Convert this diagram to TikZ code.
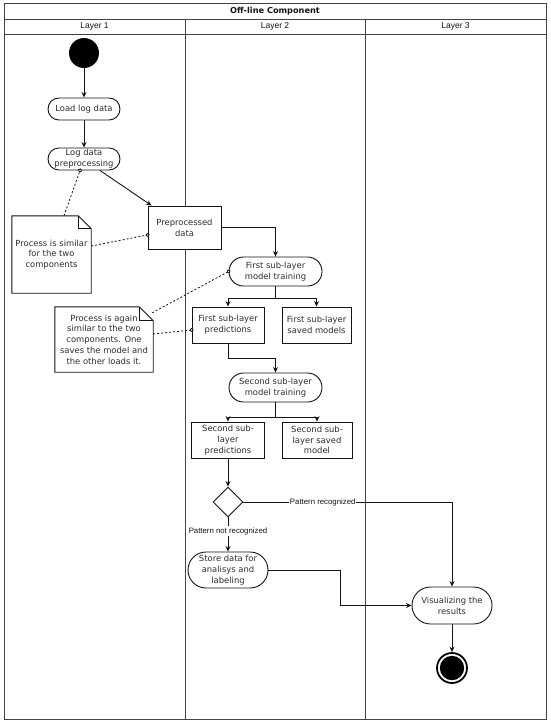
\documentclass[tikz,border=0pt]{standalone}
\usepackage{fontspec}
\setmainfont{DejaVu Sans}
\newfontfamily\lblfont{Liberation Sans}
\usetikzlibrary{arrows.meta,shapes.geometric,calc}
\definecolor{linec}{HTML}{141414}
\definecolor{textc}{HTML}{2E2E2E}
\begin{document}
\begin{tikzpicture}[x=1pt,y=-1pt,
  every node/.style={text=textc, font=\fontsize{8.4}{10.8}\selectfont, align=center, inner sep=0pt},
  frame/.style={draw=linec!80, line width=1pt},
  act/.style={draw=linec, line width=0.9pt, fill=white, rectangle, rounded corners=#1},
  box/.style={draw=linec, line width=0.9pt, fill=white, rectangle},
  flow/.style={draw=linec, line width=0.9pt, -{Stealth[length=5.5pt,width=5pt]}},
  anchorline/.style={draw=linec, line width=0.8pt, dash pattern=on 2pt off 2pt, -{Circle[open,length=4pt,width=4pt,fill=white,line width=0.8pt,sep=-2pt]}},
  elabel/.style={fill=white, font=\lblfont\fontsize{7.8}{9}\selectfont, text=linec, inner sep=1pt},
  hdr/.style={font=\lblfont\fontsize{8.5}{10}\selectfont, text=linec}
]
\useasboundingbox (0,0) rectangle (550,723);
\fill[white] (0,0) rectangle (550,723);

% swimlane frame
\draw[frame] (4,3) rectangle (546,719);
\draw[frame] (4,19) -- (546,19);
\draw[frame] (4,34) -- (546,34);
\draw[frame] (185,19) -- (185,719);
\draw[frame] (365,19) -- (365,719);
\node[font=\bfseries\fontsize{8.2}{10}\selectfont, text=linec] (title) at (275,11) {Off-line Component};
\node[hdr] (h1) at (94.5,26.5) {Layer 1};
\node[hdr] (h2) at (275,26.5) {Layer 2};
\node[hdr] (h3) at (455.5,26.5) {Layer 3};

% nodes
\node[circle, fill=black, minimum size=30pt] (start) at (84,53) {};
\node[act=11pt, minimum width=72pt, minimum height=22pt] (load) at (84,109) {Load log data};
\node[act=11pt, minimum width=72pt, minimum height=22pt] (prep) at (84,159) {Log data\\preprocessing};
\node[box, minimum width=73pt, minimum height=43pt] (pdata) at (184.5,227.5) {Preprocessed\\data};
\node[minimum width=79pt, minimum height=77pt] (note1) at (51.5,254.5) {};
\node[act=14.5pt, minimum width=93pt, minimum height=29pt] (train1) at (275.5,271.5) {First sub-layer\\model training};
\node[box, minimum width=72pt, minimum height=36pt] (pred1) at (228,325) {First sub-layer\\predictions};
\node[box, minimum width=69pt, minimum height=36pt] (saved1) at (316.5,325) {First sub-layer\\saved models};
\node[minimum width=98pt, minimum height=65pt] (note2) at (104,339.5) {};
\node[act=14.5pt, minimum width=93pt, minimum height=29pt] (train2) at (275.5,387.5) {Second sub-layer\\model training};
\node[box, minimum width=73pt, minimum height=36pt] (pred2) at (228,440) {Second sub-\\layer\\predictions};
\node[box, minimum width=70pt, minimum height=36pt] (saved2) at (317,440) {Second sub-\\layer saved\\model};
\node[diamond, draw=linec, line width=0.9pt, fill=white, minimum width=30pt, minimum height=30pt] (dec) at (228,502) {};
\node[act=18pt, minimum width=80pt, minimum height=36pt] (store) at (228,570) {Store data for\\analisys and\\labeling};
\node[act=18.5pt, minimum width=80pt, minimum height=37pt] (vis) at (452,605.5) {Visualizing the\\results};
\node[circle, draw=black, line width=1.8pt, fill=white, minimum size=30pt] (end) at (452,668) {};
\fill[black] (end.center) circle (12.2pt);

% note outlines (folded corner)
\foreach \n/\f in {note1/13, note2/14}{
  \draw[linec, line width=0.9pt, fill=white]
    (\n.north west) -- ($(\n.north east)+(-\f,0)$) -- ($(\n.north east)+(0,\f)$)
    -- (\n.south east) -- (\n.south west) -- cycle;
  \draw[linec, line width=0.9pt] ($(\n.north east)+(-\f,0)$) -- ($(\n.north east)+(-\f,\f)$) -- ($(\n.north east)+(0,\f)$);
}
\node (note1text) at (note1.center) {Process is similar\\for the two\\components};
\node (note2text) at (note2.center) {Process is again\\similar to the two\\components. One\\saves the model and\\the other loads it.};

% flows
\draw[flow] (start) -- (load);
\draw[flow] (load) -- (prep);
\draw[flow] ($(prep.south)+(16,0)$) -- ($(pdata.north west)+(4,0)$);
\draw[flow] (pdata.east) -| (train1.north);
\coordinate (b1) at ($(train1.south)+(0,12)$);
\draw[linec, line width=0.9pt] (train1.south) -- (b1);
\draw[flow] (b1) -| (pred1.north);
\draw[flow] (b1) -| (saved1.north);
\draw[flow] (pred1.south) -- ++(0,15) -| (train2.north);
\coordinate (b2) at ($(train2.south)+(0,14.5)$);
\draw[linec, line width=0.9pt] (train2.south) -- (b2);
\draw[flow] (b2) -| (pred2.north);
\draw[flow] (b2) -| (saved2.north);
\draw[flow] (pred2.south) -- (dec.north);
\draw[flow] (dec.east) -| node[elabel, pos=0.19] {Pattern recognized} (vis.north);
\draw[flow] (dec.south) -- node[elabel, pos=0.4] {Pattern not recognized} (store.north);
\draw[flow] (store.east) -- ++(72,0) |- (vis.west);
\draw[flow] (vis) -- (end);

% note anchors
\draw[anchorline] ($(note1.north)+(12.5,0)$) -- ($(prep.south)+(-4,0)$);
\draw[anchorline] ($(note1.east)+(0,-8.5)$) -- ($(pdata.west)+(0,7.5)$);
\draw[anchorline] ($(note2.north east)+(-1,6)$) -- (train1.west);
\draw[anchorline] ($(note2.east)+(0,-5.5)$) -- ($(pred1.west)+(0,5)$);
\end{tikzpicture}
\end{document}
